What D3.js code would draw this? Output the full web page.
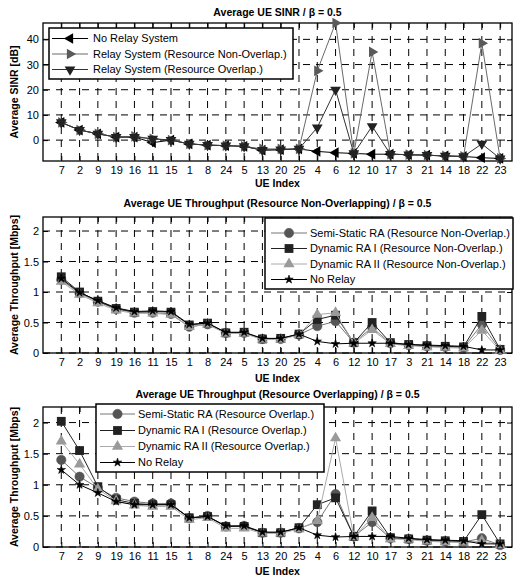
<!DOCTYPE html>
<html>
<head>
<meta charset="utf-8">
<script src="https://cdn.jsdelivr.net/npm/d3@7"></script>
<style>
  body { margin: 0; background: #fff; }
  text { font-family: "Liberation Sans", Arial, sans-serif; }
</style>
</head>
<body>
<div id="chart"></div>
<script>

// ---- data ----
var ueIndex = ["7","2","9","19","16","11","15","1","8","24","5","13","20","25","4","6","12","10","17","3","21","14","18","22","23"];

var sinrTicks = [0, 10, 20, 30, 40];
var thrTicks = [0, 0.5, 1, 1.5, 2];

// panel 1 : average SINR [dB]
var sinrNoRelay    = [7, 4, 2.5, 1.2, 1.2, -1, 0, -1.5, -2, -2.2, -2.5, -4, -3.8, -3.5, -4.5, -5, -5.3, -5.6, -5.6, -5.8, -6, -6.3, -6.5, -7, -7.3];
var sinrNonOverlap = [7, 4, 2.5, 1.2, 1.5, 0.5, 0, -1.5, -2, -2.2, -2.5, -3.5, -3.5, -3.5, 27.5, 46.5, -5.3, 35, -5.6, -5.8, -6, -6.3, -6.5, 38.5, -7.3];
var sinrOverlap    = [7, 4, 2.5, 1.2, 1.2, 0.5, 0, -1.5, -2, -2.2, -2.5, -4, -3.8, -3.5, 5, 20, -5.3, 5.5, -5.6, -5.8, -6, -6.3, -6.5, -1.5, -7.3];

// panel 2 : throughput, resource non-overlapping [Mbps]
var nonSemi    = [1.2, 0.98, 0.84, 0.72, 0.66, 0.66, 0.64, 0.43, 0.47, 0.33, 0.33, 0.23, 0.23, 0.3, 0.44, 0.52, 0.17, 0.42, 0.16, 0.13, 0.11, 0.1, 0.09, 0.47, 0.05];
var nonDyn1    = [1.25, 1.0, 0.85, 0.73, 0.67, 0.68, 0.67, 0.46, 0.49, 0.33, 0.34, 0.23, 0.24, 0.31, 0.55, 0.62, 0.17, 0.5, 0.17, 0.14, 0.12, 0.11, 0.1, 0.6, 0.06];
var nonDyn2    = [1.17, 0.96, 0.82, 0.7, 0.65, 0.65, 0.63, 0.43, 0.47, 0.32, 0.32, 0.22, 0.22, 0.3, 0.63, 0.66, 0.16, 0.38, 0.15, 0.12, 0.1, 0.09, 0.08, 0.37, 0.04];
var nonNoRelay = [1.22, 0.99, 0.86, 0.74, 0.68, 0.69, 0.68, 0.47, 0.49, 0.34, 0.34, 0.24, 0.24, 0.31, 0.19, 0.15, 0.16, 0.16, 0.16, 0.14, 0.13, 0.12, 0.11, 0.05, 0.05];

// panel 3 : throughput, resource overlapping [Mbps]
var ovSemi    = [1.4, 1.13, 0.95, 0.79, 0.73, 0.7, 0.7, 0.46, 0.5, 0.33, 0.34, 0.23, 0.23, 0.3, 0.4, 0.85, 0.17, 0.4, 0.14, 0.13, 0.1, 0.09, 0.08, 0.14, 0.03];
var ovDyn1    = [2.02, 1.55, 0.97, 0.76, 0.7, 0.68, 0.68, 0.47, 0.49, 0.33, 0.33, 0.23, 0.23, 0.31, 0.68, 0.79, 0.17, 0.58, 0.15, 0.13, 0.11, 0.1, 0.09, 0.52, 0.05];
var ovDyn2    = [1.7, 1.33, 0.93, 0.74, 0.67, 0.65, 0.65, 0.44, 0.47, 0.3, 0.3, 0.22, 0.22, 0.29, 0.42, 1.75, 0.16, 0.47, 0.13, 0.12, 0.09, 0.08, 0.07, 0.1, 0.03];
var ovNoRelay = [1.24, 1.0, 0.87, 0.73, 0.68, 0.68, 0.68, 0.47, 0.49, 0.34, 0.34, 0.24, 0.24, 0.31, 0.19, 0.16, 0.17, 0.17, 0.17, 0.14, 0.12, 0.11, 0.1, 0.05, 0.05];

// ---- layout ----
var width = 518,
    height = 579;

var svg = d3.select("#chart").append("svg")
    .attr("width", width)
    .attr("height", height);

var x = d3.scaleLinear().domain([0, 25.65]).range([43, 512]);

var panels = [
  { top: 23, bottom: 161, ydom: [-8.3, 46.5], ticks: sinrTicks,
    title: "Average UE SINR / \u03b2 = 0.5", ylabel: "Average SINR [dB]",
    titleY: 16, xlabY: 187,
    series: [
      { name: "No Relay System", values: sinrNoRelay, line: "#000", mark: "#000", sym: "triLeft" },
      { name: "Relay System (Resource Non-Overlap.)", values: sinrNonOverlap, line: "#6a6a6a", mark: "#5a5a5a", sym: "triRight" },
      { name: "Relay System (Resource Overlap.)", values: sinrOverlap, line: "#333", mark: "#222", sym: "triDown" }
    ],
    legend: { x: 49, y: 28, w: 244, h: 51, rows: [38.5, 54, 69.5], lx1: 52, lx2: 88, tx: 93 } },
  { top: 217, bottom: 353, ydom: [0, 2.23], ticks: thrTicks,
    title: "Average UE Throughput (Resource Non-Overlapping) / \u03b2 = 0.5", ylabel: "Average Throughput [Mbps]",
    titleY: 207, xlabY: 382,
    series: [
      { name: "Semi-Static RA (Resource Non-Overlap.)", values: nonSemi, line: "#777", mark: "#555", sym: "circle" },
      { name: "Dynamic RA I (Resource Non-Overlap.)", values: nonDyn1, line: "#222", mark: "#222", sym: "square" },
      { name: "Dynamic RA II (Resource Non-Overlap.)", values: nonDyn2, line: "#aaa", mark: "#9a9a9a", sym: "triUp" },
      { name: "No Relay", values: nonNoRelay, line: "#000", mark: "#000", sym: "star" }
    ],
    legend: { x: 265, y: 218, w: 248, h: 71, rows: [233, 248.5, 264, 279.5], lx1: 271, lx2: 307, tx: 310 } },
  { top: 407, bottom: 547, ydom: [0, 2.25], ticks: thrTicks,
    title: "Average UE Throughput (Resource Overlapping) / \u03b2 = 0.5", ylabel: "Average Throughput [Mbps]",
    titleY: 398, xlabY: 575,
    series: [
      { name: "Semi-Static RA (Resource Overlap.)", values: ovSemi, line: "#777", mark: "#555", sym: "circle" },
      { name: "Dynamic RA I (Resource Overlap.)", values: ovDyn1, line: "#222", mark: "#222", sym: "square" },
      { name: "Dynamic RA II (Resource Overlap.)", values: ovDyn2, line: "#aaa", mark: "#9a9a9a", sym: "triUp" },
      { name: "No Relay", values: ovNoRelay, line: "#000", mark: "#000", sym: "star" }
    ],
    legend: { x: 96, y: 404, w: 228, h: 68, rows: [414, 430.5, 446.5, 462.5], lx1: 100, lx2: 135, tx: 138 } }
];

// marker shapes
function marker(g, sym, color) {
  if (sym == "circle") {
    g.append("circle").attr("r", 4.7).attr("fill", color).attr("stroke", color).attr("stroke-width", 0.5);
    return;
  }
  if (sym == "square") {
    g.append("rect").attr("x", -4.4).attr("y", -4.4).attr("width", 8.8).attr("height", 8.8)
      .attr("fill", color);
    return;
  }
  if (sym == "star") {
    g.append("path").attr("d", d3.symbol().type(d3.symbolStar).size(22)())
      .attr("fill", color).attr("stroke", color).attr("stroke-width", 0.6);
    return;
  }
  var rot = { triUp: 0, triRight: 90, triDown: 180, triLeft: 270 }[sym];
  var size = sym == "triUp" ? 54 : 50;
  g.append("path").attr("d", d3.symbol().type(d3.symbolTriangle).size(size)())
    .attr("transform", "rotate(" + rot + ")")
    .attr("fill", color);
}

panels.forEach(function(p) {
  var y = d3.scaleLinear().domain(p.ydom).range([p.bottom, p.top]);
  var g = svg.append("g");
  var x0 = x.range()[0], x1 = x.range()[1];

  // dashed grid
  g.append("g").selectAll("line").data(ueIndex).enter().append("line")
    .attr("x1", function(d, i) { return x(i + 1); })
    .attr("x2", function(d, i) { return x(i + 1); })
    .attr("y1", p.top).attr("y2", p.bottom)
    .attr("stroke", "#000").attr("stroke-width", 1)
    .attr("stroke-dasharray", "7,6");
  g.append("g").selectAll("line").data(p.ticks).enter().append("line")
    .attr("x1", x0).attr("x2", x1)
    .attr("y1", function(d) { return y(d); })
    .attr("y2", function(d) { return y(d); })
    .attr("stroke", "#000").attr("stroke-width", 1)
    .attr("stroke-dasharray", "7,6");

  // axes (tick labels), inward tick marks
  var xa = g.append("g").attr("transform", "translate(0," + p.bottom + ")")
    .call(d3.axisBottom(x)
      .tickValues(d3.range(1, ueIndex.length + 1))
      .tickFormat(function(d) { return ueIndex[d - 1]; })
      .tickSizeInner(-5).tickSizeOuter(0).tickPadding(5));
  xa.select(".domain").remove();
  xa.selectAll("text").attr("font-size", "11px").attr("fill", "#000")
    .attr("font-family", "Liberation Sans, Arial, sans-serif");

  var xt = g.append("g").attr("transform", "translate(0," + p.top + ")")
    .call(d3.axisTop(x).tickValues(d3.range(1, ueIndex.length + 1)).tickFormat("").tickSizeInner(-5).tickSizeOuter(0));
  xt.select(".domain").remove();

  var ya = g.append("g").attr("transform", "translate(" + x0 + ",0)")
    .call(d3.axisLeft(y).tickValues(p.ticks).tickFormat(d3.format("")).tickSizeInner(-5).tickSizeOuter(0).tickPadding(4));
  ya.select(".domain").remove();
  ya.selectAll("text").attr("font-size", "11px").attr("fill", "#000")
    .attr("font-family", "Liberation Sans, Arial, sans-serif");

  var yr = g.append("g").attr("transform", "translate(" + x1 + ",0)")
    .call(d3.axisRight(y).tickValues(p.ticks).tickFormat("").tickSizeInner(-5).tickSizeOuter(0));
  yr.select(".domain").remove();

  // box
  g.append("rect").attr("x", x0).attr("y", p.top)
    .attr("width", x1 - x0).attr("height", p.bottom - p.top)
    .attr("fill", "none").attr("stroke", "#000").attr("stroke-width", 1.3);

  // series
  var line = d3.line()
    .x(function(d, i) { return x(i + 1); })
    .y(function(d) { return y(d); });

  p.series.forEach(function(s) {
    g.append("path").datum(s.values)
      .attr("d", line)
      .attr("fill", "none")
      .attr("stroke", s.line)
      .attr("stroke-width", 1);
    g.append("g").selectAll("g").data(s.values).enter().append("g")
      .attr("transform", function(d, i) { return "translate(" + x(i + 1) + "," + y(d) + ")"; })
      .each(function() { marker(d3.select(this), s.sym, s.mark); });
  });

  // legend
  var L = p.legend;
  var lg = svg.append("g");
  lg.append("rect").attr("x", L.x).attr("y", L.y).attr("width", L.w).attr("height", L.h)
    .attr("fill", "#fff").attr("stroke", "#000").attr("stroke-width", 1.5);
  p.series.forEach(function(s, i) {
    var ry = L.rows[i];
    lg.append("line").attr("x1", L.lx1).attr("x2", L.lx2).attr("y1", ry).attr("y2", ry)
      .attr("stroke", s.line).attr("stroke-width", 1);
    var m = lg.append("g").attr("transform", "translate(" + ((L.lx1 + L.lx2) / 2) + "," + ry + ")");
    marker(m, s.sym, s.mark);
    lg.append("text").attr("x", L.tx).attr("y", ry).attr("dy", "0.35em")
      .attr("font-size", "11px").text(s.name);
  });

  // titles
  svg.append("text").attr("x", (x0 + x1) / 2).attr("y", p.titleY)
    .attr("text-anchor", "middle").attr("font-size", "10.5px").attr("font-weight", "bold")
    .text(p.title);
  svg.append("text").attr("x", (x0 + x1) / 2).attr("y", p.xlabY)
    .attr("text-anchor", "middle").attr("font-size", "10.5px").attr("font-weight", "bold")
    .text("UE Index");
  svg.append("text")
    .attr("transform", "translate(18," + ((p.top + p.bottom) / 2) + ") rotate(-90)")
    .attr("text-anchor", "middle").attr("font-size", "10.5px").attr("font-weight", "bold")
    .text(p.ylabel);
});

</script>
</body>
</html>
